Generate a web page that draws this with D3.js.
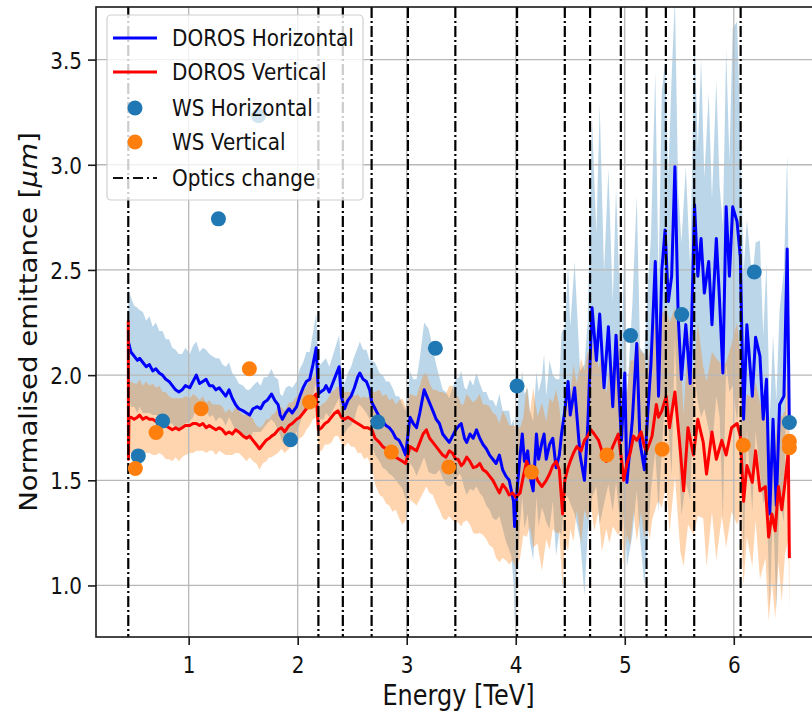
<!DOCTYPE html>
<html>
<head>
<meta charset="utf-8">
<script src="https://cdn.jsdelivr.net/npm/d3@7"></script>
<style>
  body { margin: 0; background: #fff; }
  svg { display: block; }
  text { font-family: "DejaVu Sans", sans-serif; fill: #111; }
</style>
</head>
<body>
<div id="content"></div>
<script>
// DOROS horizontal: energy [TeV], mean and spread of the normalised emittance.
var hEnergy = [
  0.446,0.47,0.50,0.53,0.55,0.58,0.61,0.64,0.67,0.70,
  0.73,0.76,0.79,0.82,0.85,0.88,0.91,0.94,0.97,1.01,
  1.04,1.07,1.10,1.13,1.16,1.19,1.22,1.25,1.28,1.31,
  1.34,1.37,1.40,1.43,1.46,1.50,1.53,1.56,1.59,1.63,
  1.66,1.69,1.72,1.76,1.79,1.82,1.84,1.86,1.89,1.92,
  1.95,1.99,2.02,2.05,2.08,2.11,2.14,2.17,2.19,2.21,
  2.24,2.26,2.29,2.32,2.35,2.38,2.40,2.43,2.46,2.49,
  2.52,2.55,2.57,2.60,2.63,2.66,2.68,2.71,2.75,2.78,
  2.81,2.84,2.87,2.90,2.93,2.96,2.99,3.03,3.06,3.09,
  3.12,3.16,3.20,3.24,3.27,3.30,3.33,3.36,3.39,3.42,
  3.45,3.48,3.50,3.53,3.55,3.58,3.61,3.64,3.67,3.70,
  3.73,3.76,3.79,3.82,3.85,3.88,3.91,3.94,3.96,3.98,
  3.99,4.01,4.04,4.06,4.08,4.11,4.13,4.16,4.19,4.21,
  4.24,4.26,4.28,4.31,4.34,4.37,4.40,4.42,4.45,4.48,
  4.50,4.54,4.59,4.63,4.66,4.70,4.74,4.77,4.81,4.85,
  4.89,4.92,4.97,5.00,5.02,5.07,5.11,5.14,5.18,5.21,
  5.24,5.28,5.31,5.34,5.37,5.40,5.43,5.46,5.49,5.52,
  5.56,5.60,5.64,5.67,5.70,5.73,5.77,5.80,5.84,5.87,
  5.90,5.93,5.96,5.99,6.03,6.06,6.09,6.12,6.17,6.20,
  6.24,6.27,6.30,6.33,6.36,6.39,6.42,6.46,6.49,6.51
];
var hMean = [
  2.16,2.11,2.09,2.07,2.08,2.06,2.04,2.05,2.02,2.03,
  2.01,2.00,1.98,1.97,1.95,1.93,1.92,1.93,1.95,1.94,
  1.97,2.00,1.96,1.97,1.98,1.95,1.95,1.93,1.94,1.92,
  1.90,1.93,1.89,1.86,1.84,1.83,1.82,1.81,1.84,1.85,
  1.84,1.87,1.88,1.91,1.88,1.86,1.81,1.79,1.82,1.84,
  1.82,1.85,1.90,1.94,1.97,1.98,2.05,2.13,1.91,1.92,
  1.93,1.95,1.92,1.96,2.00,2.04,1.90,1.84,1.88,1.90,
  1.94,1.99,2.01,1.98,1.97,1.93,1.87,1.84,1.80,1.78,
  1.76,1.75,1.73,1.70,1.69,1.66,1.62,1.80,1.77,1.75,
  1.82,1.93,1.88,1.83,1.79,1.77,1.72,1.70,1.68,1.71,
  1.74,1.76,1.77,1.70,1.68,1.72,1.70,1.74,1.70,1.67,
  1.65,1.62,1.60,1.58,1.62,1.55,1.52,1.50,1.45,1.40,
  1.28,1.44,1.62,1.72,1.59,1.64,1.52,1.45,1.72,1.60,
  1.68,1.72,1.60,1.67,1.70,1.56,1.62,1.72,1.83,1.97,
  1.81,1.94,1.62,1.50,1.75,2.32,2.07,2.29,1.94,2.23,
  1.85,2.19,1.69,2.01,1.49,1.79,2.15,1.68,1.55,1.81,
  2.05,2.54,1.90,2.50,2.69,2.35,2.47,2.99,2.28,1.98,
  2.24,1.96,2.81,2.47,2.65,2.39,2.54,2.24,2.65,2.35,
  2.01,2.80,2.47,2.80,2.73,2.56,1.79,2.24,1.90,2.18,
  2.09,1.79,1.98,1.34,1.79,1.38,1.86,1.90,2.60,1.75
];
var hStd = [
  0.25,0.26,0.24,0.25,0.23,0.24,0.22,0.23,0.21,0.22,
  0.20,0.21,0.19,0.20,0.18,0.19,0.18,0.17,0.18,0.16,
  0.17,0.16,0.15,0.16,0.14,0.15,0.14,0.15,0.14,0.13,
  0.14,0.13,0.12,0.13,0.12,0.12,0.11,0.12,0.11,0.12,
  0.11,0.12,0.11,0.12,0.11,0.12,0.10,0.11,0.12,0.11,
  0.12,0.12,0.13,0.12,0.14,0.13,0.15,0.16,0.14,0.13,
  0.14,0.13,0.12,0.13,0.14,0.15,0.13,0.12,0.13,0.14,
  0.15,0.14,0.15,0.14,0.15,0.14,0.20,0.22,0.21,0.22,
  0.21,0.22,0.21,0.20,0.21,0.20,0.21,0.22,0.21,0.23,
  0.26,0.32,0.34,0.30,0.26,0.22,0.21,0.22,0.21,0.23,
  0.24,0.23,0.25,0.24,0.25,0.26,0.25,0.27,0.26,0.25,
  0.27,0.26,0.28,0.27,0.29,0.28,0.31,0.33,0.31,0.39,
  0.46,0.40,0.32,0.30,0.32,0.30,0.31,0.33,0.30,0.32,
  0.31,0.38,0.30,0.40,0.30,0.42,0.36,0.48,0.40,0.55,
  0.42,0.60,0.40,0.55,0.50,0.90,0.60,1.00,0.55,0.75,
  0.50,0.70,0.45,0.65,0.40,0.55,0.70,0.45,0.55,0.60,
  0.60,0.90,0.55,0.85,0.80,0.60,0.95,0.80,0.60,0.65,
  0.75,0.55,0.80,0.60,0.85,0.55,0.80,0.60,0.75,0.55,
  0.70,0.75,0.55,0.85,0.95,0.60,0.70,0.50,0.55,0.45,
  0.55,0.40,0.55,0.45,0.40,0.50,0.45,0.60,0.45,0.40
];

// DOROS vertical
var vEnergy = [
  0.446,0.448,0.452,0.47,0.50,0.53,0.55,0.58,0.61,0.64,
  0.67,0.70,0.73,0.76,0.79,0.82,0.85,0.88,0.91,0.94,
  0.97,1.01,1.04,1.07,1.10,1.13,1.16,1.19,1.22,1.25,
  1.28,1.31,1.34,1.37,1.40,1.43,1.46,1.50,1.53,1.56,
  1.59,1.62,1.65,1.68,1.71,1.74,1.76,1.79,1.82,1.85,
  1.88,1.92,1.95,1.99,2.02,2.05,2.08,2.11,2.14,2.17,
  2.19,2.22,2.25,2.28,2.31,2.34,2.37,2.40,2.43,2.46,
  2.49,2.52,2.55,2.58,2.61,2.64,2.68,2.71,2.75,2.78,
  2.81,2.84,2.87,2.90,2.93,2.96,2.99,3.03,3.09,3.15,
  3.18,3.21,3.24,3.27,3.30,3.33,3.36,3.39,3.42,3.45,
  3.47,3.50,3.52,3.55,3.58,3.61,3.64,3.67,3.70,3.73,
  3.76,3.79,3.82,3.85,3.88,3.91,3.94,3.97,4.00,4.04,
  4.07,4.10,4.13,4.16,4.20,4.24,4.28,4.31,4.34,4.37,
  4.40,4.43,4.45,4.48,4.50,4.53,4.56,4.60,4.63,4.66,
  4.69,4.72,4.76,4.79,4.83,4.86,4.89,4.94,4.97,4.99,
  5.02,5.05,5.08,5.11,5.15,5.18,5.20,5.23,5.25,5.29,
  5.31,5.34,5.38,5.41,5.46,5.51,5.54,5.58,5.63,5.67,
  5.72,5.75,5.80,5.84,5.89,5.93,5.98,6.03,6.06,6.09,
  6.12,6.17,6.20,6.24,6.29,6.32,6.35,6.38,6.41,6.44,
  6.47,6.50,6.51
];
var vMean = [
  2.26,1.60,1.80,1.80,1.79,1.80,1.81,1.79,1.80,1.79,
  1.79,1.78,1.79,1.77,1.76,1.75,1.74,1.75,1.74,1.75,
  1.76,1.76,1.77,1.77,1.76,1.77,1.75,1.76,1.75,1.74,
  1.75,1.74,1.72,1.73,1.72,1.74,1.73,1.71,1.70,1.71,
  1.69,1.67,1.65,1.67,1.69,1.70,1.71,1.72,1.74,1.75,
  1.73,1.76,1.77,1.79,1.80,1.82,1.84,1.87,1.89,1.91,
  1.74,1.75,1.77,1.78,1.80,1.82,1.83,1.80,1.79,1.80,
  1.79,1.78,1.77,1.76,1.75,1.75,1.74,1.70,1.68,1.66,
  1.65,1.63,1.62,1.61,1.60,1.59,1.58,1.66,1.64,1.72,
  1.74,1.70,1.68,1.66,1.64,1.62,1.61,1.64,1.63,1.60,
  1.60,1.57,1.58,1.61,1.59,1.56,1.565,1.58,1.55,1.54,
  1.52,1.50,1.47,1.44,1.48,1.46,1.43,1.44,1.42,1.44,
  1.52,1.59,1.55,1.56,1.50,1.47,1.50,1.53,1.57,1.59,
  1.55,1.34,1.50,1.56,1.59,1.63,1.66,1.64,1.69,1.71,
  1.74,1.72,1.69,1.64,1.59,1.62,1.66,1.72,1.60,1.50,
  1.58,1.63,1.71,1.69,1.73,1.66,1.64,1.68,1.71,1.86,
  1.80,1.83,1.90,1.75,1.92,1.64,1.45,1.75,1.62,1.79,
  1.68,1.53,1.73,1.60,1.69,1.62,1.75,1.77,1.71,1.40,
  1.57,1.49,1.64,1.45,1.47,1.23,1.34,1.26,1.47,1.36,
  1.49,1.64,1.13
];
var vStd = [
  0.02,0.02,0.17,0.17,0.17,0.16,0.17,0.16,0.17,0.16,
  0.17,0.16,0.16,0.15,0.16,0.15,0.15,0.14,0.15,0.14,
  0.14,0.13,0.14,0.13,0.12,0.13,0.12,0.12,0.11,0.12,
  0.11,0.11,0.10,0.11,0.10,0.11,0.10,0.10,0.11,0.10,
  0.10,0.09,0.10,0.09,0.10,0.09,0.10,0.10,0.11,0.10,
  0.10,0.11,0.10,0.11,0.10,0.11,0.10,0.11,0.10,0.11,
  0.10,0.11,0.10,0.11,0.12,0.11,0.12,0.12,0.13,0.12,
  0.13,0.12,0.14,0.13,0.15,0.14,0.18,0.22,0.25,0.24,
  0.26,0.25,0.27,0.25,0.28,0.30,0.27,0.25,0.26,0.28,
  0.27,0.26,0.25,0.27,0.28,0.30,0.30,0.31,0.32,0.30,
  0.30,0.29,0.28,0.30,0.30,0.31,0.32,0.33,0.31,0.32,
  0.33,0.32,0.34,0.33,0.35,0.34,0.33,0.32,0.34,0.31,
  0.28,0.36,0.27,0.38,0.30,0.40,0.28,0.36,0.30,0.34,
  0.30,0.36,0.28,0.40,0.32,0.42,0.30,0.44,0.33,0.40,
  0.36,0.46,0.34,0.48,0.32,0.42,0.38,0.48,0.34,0.40,
  0.34,0.44,0.36,0.48,0.38,0.44,0.34,0.46,0.40,0.48,
  0.40,0.46,0.42,0.50,0.40,0.48,0.36,0.46,0.38,0.46,
  0.36,0.44,0.38,0.48,0.36,0.44,0.40,0.48,0.38,0.40,
  0.34,0.40,0.33,0.42,0.34,0.40,0.32,0.42,0.36,0.44,
  0.34,0.42,0.25
];

// Wire scanner measurements.
var wsHEnergy = [0.538, 0.761, 1.273, 1.640, 1.934, 2.736, 3.263, 4.012, 5.053, 5.522, 6.188, 6.510];
var wsHValue  = [1.616, 1.782, 2.743, 3.233, 1.693, 1.777, 2.128, 1.948, 2.188, 2.288, 2.490, 1.775];
var wsVEnergy = [0.511, 0.701, 1.114, 1.557, 2.108, 2.859, 3.385, 4.144, 4.836, 5.343, 6.087, 6.510, 6.510];
var wsVValue  = [1.556, 1.727, 1.840, 2.030, 1.872, 1.634, 1.563, 1.539, 1.620, 1.648, 1.667, 1.655, 1.685];

// Energies where the optics change.
var opticsChange = [0.446, 2.19, 2.414, 2.678, 3.011, 3.446, 4.012, 4.45, 4.682, 4.964, 5.2, 5.377, 5.637, 6.063];

var xTicks = [1, 2, 3, 4, 5, 6];
var yTicks = [1.0, 1.5, 2.0, 2.5, 3.0, 3.5];

var legendLabels = ['DOROS Horizontal', 'DOROS Vertical', 'WS Horizontal', 'WS Vertical', 'Optics change'];

// Layout.
var plot = {left: 96, top: 7, right: 821, bottom: 637};
var stretch = 1.15;   // the picture is a bit taller than wide, text too

var svg = d3.select('#content')
    .append('svg')
    .attr('width', 812)
    .attr('height', 719);

var x = d3.scaleLinear().domain([0.15, 6.8]).range([plot.left, plot.right]);
var y = d3.scaleLinear().domain([0.755, 3.75]).range([plot.bottom, plot.top]);

svg.append('clipPath').attr('id', 'clip')
    .append('rect')
    .attr('x', plot.left).attr('y', plot.top)
    .attr('width', plot.right - plot.left)
    .attr('height', plot.bottom - plot.top);

var g = svg.append('g').attr('clip-path', 'url(#clip)');

function series(energy, mean, std) {
  return energy.map(function(e, i) { return {e: e, m: mean[i], s: std[i]}; });
}
var hData = series(hEnergy, hMean, hStd);
var vData = series(vEnergy, vMean, vStd);

var band = d3.area()
    .x(function(d) { return x(d.e); })
    .y0(function(d) { return y(d.m - d.s); })
    .y1(function(d) { return y(d.m + d.s); });

var line = d3.line()
    .x(function(d) { return x(d.e); })
    .y(function(d) { return y(d.m); });

// Spread bands.
g.append('path').datum(hData).attr('d', band)
    .attr('fill', '#1f77b4').attr('fill-opacity', 0.3);
g.append('path').datum(vData).attr('d', band)
    .attr('fill', '#ff7f0e').attr('fill-opacity', 0.33);

// Grid.
g.selectAll('.gx').data(xTicks).enter().append('line')
    .attr('x1', function(d) { return x(d); }).attr('x2', function(d) { return x(d); })
    .attr('y1', plot.top).attr('y2', plot.bottom)
    .attr('stroke', '#b8b8b8').attr('stroke-width', 1.3);
g.selectAll('.gy').data(yTicks).enter().append('line')
    .attr('y1', function(d) { return y(d); }).attr('y2', function(d) { return y(d); })
    .attr('x1', plot.left).attr('x2', plot.right)
    .attr('stroke', '#b8b8b8').attr('stroke-width', 1.3);

// Mean lines.
g.append('path').datum(hData).attr('d', line)
    .attr('fill', 'none').attr('stroke', '#0000ff')
    .attr('stroke-width', 3).attr('stroke-linejoin', 'round');
g.append('path').datum(vData).attr('d', line)
    .attr('fill', 'none').attr('stroke', '#ff0000')
    .attr('stroke-width', 3).attr('stroke-linejoin', 'round');

// Optics change markers.
g.selectAll('.optics').data(opticsChange).enter().append('line')
    .attr('x1', function(d) { return x(d); }).attr('x2', function(d) { return x(d); })
    .attr('y1', plot.top).attr('y2', plot.bottom)
    .attr('stroke', '#000').attr('stroke-width', 2.2)
    .attr('stroke-dasharray', '11,3,2,3');

// Wire scanner points.
g.selectAll('.wsh').data(d3.range(wsHEnergy.length)).enter().append('circle')
    .attr('cx', function(i) { return x(wsHEnergy[i]); })
    .attr('cy', function(i) { return y(wsHValue[i]); })
    .attr('r', 7.5).attr('fill', '#1f77b4');
g.selectAll('.wsv').data(d3.range(wsVEnergy.length)).enter().append('circle')
    .attr('cx', function(i) { return x(wsVEnergy[i]); })
    .attr('cy', function(i) { return y(wsVValue[i]); })
    .attr('r', 7.5).attr('fill', '#ff7f0e');

// Frame.
svg.append('rect')
    .attr('x', plot.left).attr('y', plot.top)
    .attr('width', plot.right - plot.left)
    .attr('height', plot.bottom - plot.top)
    .attr('fill', 'none').attr('stroke', '#1a1a1a').attr('stroke-width', 1.6);

// Axes.
var xAxis = svg.append('g')
    .attr('transform', 'translate(0,' + plot.bottom + ')')
    .call(d3.axisBottom(x).tickValues(xTicks).tickSize(8).tickFormat(d3.format('d')));
var yAxis = svg.append('g')
    .attr('transform', 'translate(' + plot.left + ',0)')
    .call(d3.axisLeft(y).tickValues(yTicks).tickSize(8).tickFormat(d3.format('.1f')));

[xAxis, yAxis].forEach(function(a) {
  a.select('.domain').remove();
  a.selectAll('.tick line').attr('stroke', '#1a1a1a').attr('stroke-width', 1.6);
  a.selectAll('.tick text')
      .attr('fill', '#111')
      .style('font-size', '20px')
      .style('font-family', '"DejaVu Sans", sans-serif')
      .attr('x', null).attr('y', null).attr('dy', null);
});
xAxis.selectAll('.tick text')
    .attr('text-anchor', 'middle')
    .attr('transform', 'translate(0,36) scale(1,' + stretch + ')');
yAxis.selectAll('.tick text')
    .attr('text-anchor', 'end')
    .attr('transform', 'translate(-14,8.5) scale(1,' + stretch + ')');

// Axis labels.
svg.append('text')
    .attr('transform', 'translate(' + (plot.left + plot.right) / 2 + ',705) scale(1,' + stretch + ')')
    .attr('text-anchor', 'middle')
    .style('font-size', '24px')
    .text('Energy [TeV]');

var yl = svg.append('text')
    .attr('transform', 'translate(37,' + (plot.top + plot.bottom) / 2 + ') scale(1,' + stretch + ') rotate(-90)')
    .attr('text-anchor', 'middle')
    .style('font-size', '24px');
yl.append('tspan').text('Normalised emittance [');
yl.append('tspan').style('font-style', 'italic').text('\u03bcm');
yl.append('tspan').text(']');

// Legend.
var legend = svg.append('g');
legend.append('rect')
    .attr('x', 107).attr('y', 15).attr('width', 256).attr('height', 185)
    .attr('rx', 4)
    .attr('fill', '#fff').attr('fill-opacity', 0.8)
    .attr('stroke', '#cfcfcf').attr('stroke-width', 1.2);

var rowY = [38, 72, 108, 142, 178];
var handle = [
  {type: 'line', color: '#0000ff'},
  {type: 'line', color: '#ff0000'},
  {type: 'dot', color: '#1f77b4'},
  {type: 'dot', color: '#ff7f0e'},
  {type: 'dash', color: '#111'}
];
handle.forEach(function(h, i) {
  if (h.type === 'dot') {
    legend.append('circle').attr('cx', 135).attr('cy', rowY[i]).attr('r', 7.5).attr('fill', h.color);
  } else {
    legend.append('line')
        .attr('x1', 113).attr('x2', 157).attr('y1', rowY[i]).attr('y2', rowY[i])
        .attr('stroke', h.color)
        .attr('stroke-width', h.type === 'dash' ? 2 : 2.8)
        .attr('stroke-dasharray', h.type === 'dash' ? '10,4,2,4' : null);
  }
  legend.append('text')
      .attr('transform', 'translate(172,' + (rowY[i] + 8.4) + ') scale(1,' + stretch + ')')
      .style('font-size', '20px')
      .text(legendLabels[i]);
});
</script>
</body>
</html>
